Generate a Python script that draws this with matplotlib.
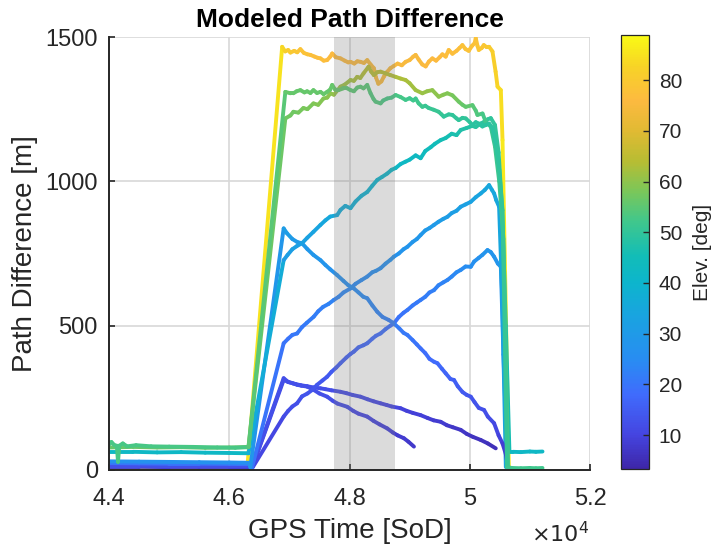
import numpy as np
import matplotlib
matplotlib.use("Agg")
import matplotlib.pyplot as plt
from matplotlib.collections import LineCollection
from matplotlib.colors import LinearSegmentedColormap, Normalize
from matplotlib.cm import ScalarMappable

# ---------------- data: (GPS time [SoD], path difference [m], elevation [deg]) ----------------
sat_A = [(44000, 7, 86), (44400, 6, 86), (44800, 7, 86), (45200, 6, 86), (45600, 7, 86), (46000, 6, 86), (46300, 7, 86),
         (46880, 1466, 84), (46930, 1450, 82), (46980, 1455, 81), (47017, 1446, 80), (47080, 1452, 80), (47130, 1447, 79),
         (47183, 1458, 79), (47240, 1445, 78), (47300, 1440, 78), (47350, 1438, 78), (47420, 1432, 77), (47470, 1428, 77),
         (47517, 1426, 77), (47570, 1418, 77), (47628, 1420, 77), (47680, 1432, 76), (47712, 1443, 76), (47770, 1430, 76),
         (47850, 1426, 76), (47920, 1418, 76), (47980, 1412, 76), (48017, 1414, 76), (48080, 1408, 76), (48130, 1416, 76),
         (48183, 1414, 76), (48240, 1410, 75), (48295, 1420, 75), (48350, 1405, 75), (48405, 1392, 75), (48440, 1360, 75),
         (48480, 1338, 75), (48530, 1346, 75), (48570, 1362, 75), (48620, 1378, 75), (48680, 1392, 75), (48740, 1400, 75),
         (48800, 1408, 75), (48870, 1402, 75), (48933, 1414, 75), (49000, 1420, 75), (49060, 1432, 75), (49100, 1438, 75),
         (49150, 1422, 75), (49210, 1405, 75), (49267, 1398, 76), (49320, 1415, 76), (49378, 1426, 76), (49440, 1418, 76),
         (49500, 1430, 76), (49545, 1440, 76), (49600, 1432, 77), (49650, 1455, 77), (49712, 1442, 77), (49780, 1452, 77),
         (49830, 1462, 77), (49878, 1472, 78), (49930, 1458, 78), (49983, 1452, 78), (50040, 1470, 78), (50080, 1478, 78),
         (50100, 1496, 78), (50130, 1468, 79), (50150, 1455, 79), (50200, 1462, 79), (50233, 1472, 79), (50280, 1465, 80),
         (50322, 1466, 80), (50378, 1450, 81), (50430, 1380, 82), (50462, 1328, 83), (50517, 1316, 84), (50545, 1143, 85),
         (50650, 10, 87)]

sat_B = [(44000, 88, 53), (44040, 97, 53), (44090, 86, 53), (44130, 84, 53), (44150, 28, 53), (44170, 84, 53),
         (44230, 92, 53), (44300, 82, 53), (44450, 86, 53), (44700, 82, 53), (45000, 81, 53), (45400, 80, 53),
         (45800, 78, 53), (46100, 77, 53), (46320, 79, 53),
         (46933, 1310, 56), (47017, 1305, 56), (47067, 1305, 56), (47120, 1312, 56), (47183, 1316, 56), (47250, 1308, 56),
         (47295, 1312, 56), (47350, 1306, 56), (47400, 1316, 56), (47460, 1306, 56), (47517, 1310, 56), (47570, 1302, 56),
         (47628, 1310, 56), (47680, 1318, 56), (47712, 1334, 56), (47760, 1318, 56), (47817, 1316, 56), (47900, 1322, 56),
         (47962, 1322, 55), (48017, 1316, 55), (48072, 1312, 55), (48130, 1325, 55), (48183, 1328, 55), (48233, 1322, 55),
         (48295, 1334, 55), (48350, 1305, 54), (48400, 1285, 54), (48433, 1276, 54), (48517, 1270, 54), (48560, 1280, 53),
         (48628, 1287, 53), (48700, 1290, 53), (48767, 1299, 53), (48850, 1292, 53), (48933, 1282, 52), (49000, 1288, 52),
         (49060, 1280, 52), (49100, 1287, 52), (49150, 1270, 52), (49212, 1258, 52), (49260, 1262, 51), (49317, 1254, 51),
         (49400, 1248, 51), (49483, 1241, 51), (49530, 1232, 51), (49567, 1224, 50), (49650, 1232, 50), (49712, 1230, 50),
         (49780, 1218, 50), (49817, 1212, 50), (49880, 1220, 50), (49933, 1218, 50), (50000, 1205, 50), (50045, 1195, 49),
         (50100, 1205, 49), (50150, 1200, 49), (50210, 1190, 49), (50267, 1195, 49), (50322, 1200, 49), (50378, 1185, 49),
         (50440, 1120, 49), (50490, 1040, 50), (50545, 900, 50), (50620, 10, 51),
         (50700, 7, 52), (50850, 6, 52), (51000, 7, 52), (51100, 6, 52), (51210, 7, 52)]

sat_C = [(44000, 78, 56), (44400, 80, 56), (44800, 78, 56), (45200, 79, 56), (45600, 77, 56), (46000, 78, 56), (46320, 80, 56),
         (46933, 1218, 57), (47017, 1228, 57), (47067, 1241, 57), (47150, 1238, 57), (47233, 1254, 58), (47300, 1250, 58),
         (47400, 1270, 58), (47480, 1265, 59), (47567, 1287, 59), (47630, 1290, 59), (47683, 1305, 60), (47740, 1300, 60),
         (47850, 1328, 61), (47920, 1335, 61), (48017, 1351, 62), (48072, 1348, 62), (48128, 1362, 63), (48180, 1358, 63),
         (48233, 1374, 63), (48317, 1397, 64), (48360, 1380, 64), (48405, 1368, 64), (48460, 1378, 64), (48517, 1380, 64),
         (48600, 1374, 64), (48680, 1368, 64), (48767, 1362, 63), (48850, 1356, 63), (48933, 1351, 63), (49000, 1340, 62),
         (49100, 1316, 62), (49212, 1305, 61), (49290, 1312, 61), (49378, 1316, 60), (49483, 1293, 60), (49560, 1300, 59),
         (49628, 1305, 59), (49712, 1298, 58), (49817, 1276, 57), (49880, 1265, 56), (49933, 1258, 56), (50045, 1264, 55),
         (50100, 1245, 54), (50128, 1230, 54), (50212, 1235, 53), (50267, 1206, 52), (50350, 1189, 51), (50420, 1120, 51),
         (50490, 1000, 52), (50560, 800, 52), (50640, 8, 53)]

sat_D = [(44000, 63, 42), (44400, 63, 42), (44800, 61, 42), (45200, 62, 42), (45600, 60, 42), (46000, 59, 42), (46320, 58, 42),
         (46905, 727, 31), (46970, 745, 31), (47050, 765, 32), (47120, 775, 32), (47212, 786, 32), (47300, 805, 33),
         (47400, 825, 33), (47517, 849, 34), (47600, 865, 35), (47680, 878, 35), (47795, 883, 36), (47850, 901, 36),
         (47930, 915, 37), (48017, 907, 37), (48100, 930, 38), (48200, 950, 38), (48295, 963, 39), (48380, 985, 39),
         (48462, 1005, 40), (48540, 1015, 40), (48628, 1027, 41), (48700, 1040, 41), (48767, 1046, 42), (48850, 1060, 42),
         (48930, 1068, 42), (49000, 1075, 43), (49100, 1090, 43), (49183, 1080, 43), (49260, 1105, 44), (49350, 1118, 44),
         (49420, 1130, 45), (49517, 1143, 45), (49600, 1150, 46), (49700, 1165, 46), (49780, 1160, 47), (49850, 1178, 47),
         (49950, 1185, 48), (50040, 1192, 48), (50100, 1188, 49), (50180, 1200, 49), (50238, 1206, 49), (50300, 1215, 50),
         (50350, 1219, 50), (50420, 1195, 50), (50480, 1100, 50), (50540, 900, 49), (50600, 500, 47), (50660, 63, 45),
         (50720, 63, 42), (50850, 62, 42), (51000, 64, 42), (51100, 63, 42), (51210, 64, 42)]

sat_E = [(44000, 24, 20), (44500, 23, 20), (45000, 22, 20), (45500, 22, 20), (46000, 21, 20), (46330, 20, 20), (46378, 8, 20),
         (46905, 439, 20), (46980, 455, 20), (47050, 468, 20), (47128, 473, 21), (47210, 495, 21), (47290, 510, 21),
         (47405, 531, 22), (47480, 550, 22), (47560, 565, 22), (47650, 575, 23), (47738, 589, 23), (47820, 600, 23),
         (47900, 615, 24), (48017, 629, 24), (48100, 645, 24), (48200, 658, 25), (48295, 670, 25), (48380, 685, 25),
         (48440, 690, 26), (48517, 699, 26), (48600, 715, 26), (48680, 728, 27), (48738, 739, 27), (48820, 750, 27),
         (48900, 765, 28), (48962, 773, 28), (49050, 790, 28), (49120, 800, 29), (49183, 814, 29), (49260, 830, 29),
         (49330, 838, 30), (49405, 849, 30), (49480, 860, 30), (49560, 870, 31), (49628, 877, 31), (49700, 890, 31),
         (49780, 898, 32), (49850, 912, 32), (49930, 920, 32), (50017, 929, 33), (50100, 945, 33), (50183, 958, 34),
         (50250, 970, 34), (50322, 987, 35), (50370, 970, 35), (50405, 958, 35), (50440, 935, 35), (50488, 912, 35),
         (50540, 600, 34), (50600, 10, 33)]

sat_F = [(44000, 17, 12), (44500, 16, 12), (45000, 16, 12), (45500, 15, 12), (46000, 15, 12), (46330, 14, 12), (46378, 5, 10),
         (46905, 185, 11), (46980, 205, 12), (47050, 220, 12), (47128, 231, 12), (47210, 255, 13), (47300, 265, 13),
         (47378, 277, 13), (47460, 295, 14), (47550, 310, 14), (47628, 323, 14), (47700, 340, 15), (47780, 355, 15),
         (47850, 370, 15), (47950, 390, 16), (48017, 402, 16), (48072, 410, 16), (48150, 425, 17), (48230, 432, 17),
         (48295, 439, 17), (48380, 455, 18), (48440, 465, 18), (48517, 473, 18), (48600, 488, 19), (48680, 500, 19),
         (48738, 508, 19), (48820, 530, 20), (48900, 545, 20), (48962, 554, 20), (49050, 570, 21), (49120, 580, 21),
         (49183, 589, 21), (49260, 600, 22), (49330, 615, 22), (49405, 623, 22), (49480, 640, 23), (49560, 650, 23),
         (49628, 658, 23), (49700, 670, 24), (49780, 685, 24), (49850, 693, 25), (49930, 705, 25), (50017, 704, 26),
         (50072, 722, 26), (50150, 735, 27), (50210, 745, 27), (50295, 762, 28), (50350, 755, 28), (50405, 739, 28),
         (50467, 715, 28), (50517, 704, 28), (50560, 400, 27), (50628, 10, 26)]

sat_G = [(44000, 30, 27), (44500, 29, 27), (45000, 28, 27), (45500, 27, 27), (46000, 26, 27), (46330, 25, 26), (46350, 10, 26),
         (46905, 837, 31), (46960, 820, 31), (47050, 800, 30), (47130, 790, 30), (47212, 785, 30), (47300, 765, 29),
         (47400, 745, 29), (47517, 727, 28), (47600, 710, 28), (47680, 695, 27), (47795, 675, 27), (47900, 655, 26),
         (47980, 640, 26), (48072, 629, 25), (48150, 615, 25), (48230, 600, 25), (48295, 595, 24), (48380, 570, 24),
         (48462, 548, 23), (48550, 530, 23), (48650, 520, 22), (48738, 508, 22), (48830, 490, 21), (48900, 475, 21),
         (48962, 468, 21), (49050, 450, 20), (49120, 435, 20), (49183, 421, 19), (49260, 405, 19), (49330, 385, 18),
         (49405, 375, 18), (49462, 370, 18), (49540, 350, 17), (49600, 335, 17), (49680, 315, 16), (49738, 312, 16),
         (49800, 290, 15), (49880, 270, 15), (49950, 260, 14), (50017, 254, 14), (50080, 235, 13), (50150, 215, 13),
         (50238, 208, 12), (50300, 185, 12), (50405, 162, 11), (50480, 120, 10), (50545, 92, 9), (50600, 55, 8),
         (50628, 23, 7)]

sat_H = [(44000, 15, 13), (44500, 15, 13), (45000, 14, 13), (45500, 14, 13), (46000, 13, 13), (46330, 13, 13), (46378, 8, 12),
         (46905, 318, 12), (46980, 305, 12), (47100, 298, 12), (47183, 294, 12), (47300, 290, 12), (47400, 286, 12),
         (47517, 283, 12), (47600, 280, 12), (47700, 276, 12), (47850, 271, 11), (47950, 266, 11), (48050, 260, 11),
         (48183, 254, 11), (48300, 245, 11), (48400, 238, 11), (48517, 231, 10), (48620, 225, 10), (48700, 220, 10),
         (48850, 214, 10), (48950, 205, 9), (49050, 198, 9), (49183, 190, 9), (49300, 180, 9), (49400, 172, 8),
         (49517, 167, 8), (49620, 155, 8), (49720, 148, 7), (49850, 139, 7), (49950, 125, 7), (50050, 115, 6),
         (50183, 104, 6), (50300, 92, 6), (50433, 75, 5)]

sat_I = [(44000, 11, 9), (44500, 11, 9), (45000, 10, 9), (45500, 10, 9), (46000, 10, 9), (46330, 9, 9), (46378, 6, 10),
         (46905, 312, 13), (46980, 305, 13), (47060, 300, 13), (47130, 295, 13), (47200, 292, 13), (47295, 289, 12),
         (47400, 278, 12), (47500, 265, 12), (47628, 254, 12), (47720, 240, 12), (47800, 230, 11), (47962, 219, 11),
         (48060, 205, 11), (48150, 195, 10), (48295, 185, 10), (48400, 170, 10), (48500, 158, 9), (48628, 144, 9),
         (48720, 130, 9), (48800, 120, 8), (48905, 110, 8), (48980, 98, 8), (49072, 81, 7)]

sat_J = [(44000, 2, 76), (44100, 0, 76), (44200, 3, 76), (44350, 1, 77)]

satellites = [sat_J, sat_A, sat_I, sat_H, sat_F, sat_E, sat_G, sat_D, sat_C, sat_B]

xticks = [44000, 46000, 48000, 50000, 52000]
xticklabels = ["4.4", "4.6", "4.8", "5", "5.2"]
yticks = [0, 500, 1000, 1500]
cbar_ticks = [10, 20, 30, 40, 50, 60, 70, 80]
shade_span = (47740, 48750)
elev_range = (3.3, 88.9)

# ---------------- styling ----------------
plt.rcParams["font.family"] = ["Liberation Sans", "DejaVu Sans"]

parula_anchor = [
    (0.000, (0.2422, 0.1504, 0.6603)),
    (0.078, (0.2700, 0.2700, 0.8800)),
    (0.170, (0.2500, 0.4200, 0.9900)),
    (0.250, (0.1600, 0.5500, 0.9500)),
    (0.350, (0.1000, 0.6400, 0.8800)),
    (0.430, (0.0500, 0.7100, 0.8000)),
    (0.490, (0.0700, 0.7400, 0.7200)),
    (0.570, (0.2500, 0.7800, 0.5500)),
    (0.640, (0.4800, 0.7800, 0.3500)),
    (0.710, (0.7200, 0.7400, 0.2000)),
    (0.780, (0.8800, 0.7300, 0.2000)),
    (0.850, (0.9900, 0.7300, 0.2500)),
    (0.930, (0.9700, 0.8300, 0.1500)),
    (1.000, (0.9769, 0.9839, 0.0805)),
]
parula = LinearSegmentedColormap.from_list("parula_like", parula_anchor, N=256)
norm = Normalize(*elev_range)

W, H = 714, 549
fig = plt.figure(figsize=(W / 100, H / 100), dpi=100)
ax = fig.add_axes([109 / W, 79 / H, 481 / W, 433 / H])

for sat in satellites:
    a = np.asarray(sat, dtype=float)
    pts = a[:, :2]
    segs = np.stack([pts[:-1], pts[1:]], axis=1)
    cvals = 0.5 * (a[:-1, 2] + a[1:, 2])
    lc = LineCollection(segs, cmap=parula, norm=norm, linewidths=2.8,
                        capstyle="round", joinstyle="round", zorder=3)
    lc.set_array(cvals)
    ax.add_collection(lc)

ax.axvspan(*shade_span, color=(0.5, 0.5, 0.5), alpha=0.28, lw=0, zorder=4)

ax.set_xlim(44000, 52000)
ax.set_ylim(0, 1500)
ax.set_xticks(xticks)
ax.set_xticklabels(xticklabels)
ax.set_yticks(yticks)
ax.set_axisbelow(True)
ax.grid(True, color="#d8d8d8", lw=1.2)
for s in ["top", "right"]:
    ax.spines[s].set_visible(False)
for s in ["left", "bottom"]:
    ax.spines[s].set_linewidth(1.4)
    ax.spines[s].set_color("#262626")
    ax.spines[s].set_zorder(6)
ax.tick_params(direction="in", length=4, width=1.2, labelsize=17, colors="#262626")
ax.tick_params(axis="x", pad=13)
ax.tick_params(axis="y", pad=8)

ax.set_xlabel("GPS Time [SoD]", fontsize=20, color="#262626", labelpad=6)
ax.set_ylabel("Path Difference [m]", fontsize=20, color="#262626", labelpad=5)
ax.set_title("Modeled Path Difference", fontsize=19, fontweight="bold", pad=7)
fig.text(589 / W, 1 - 535 / H, r"$\times10^{4}$", fontsize=16, ha="right", va="center", color="#262626")

cax = fig.add_axes([621 / W, 80 / H, 28 / W, 434 / H])
sm = ScalarMappable(norm=norm, cmap=parula)
cb = fig.colorbar(sm, cax=cax)
cb.set_ticks(cbar_ticks)
cb.outline.set_linewidth(0.9)
cb.outline.set_edgecolor("#262626")
cax.tick_params(direction="in", length=4, width=1, labelsize=15, colors="#262626", pad=7)
cb.set_label("Elev. [deg]", fontsize=15, color="#262626", labelpad=8)

fig.savefig("out.png", dpi=100)
